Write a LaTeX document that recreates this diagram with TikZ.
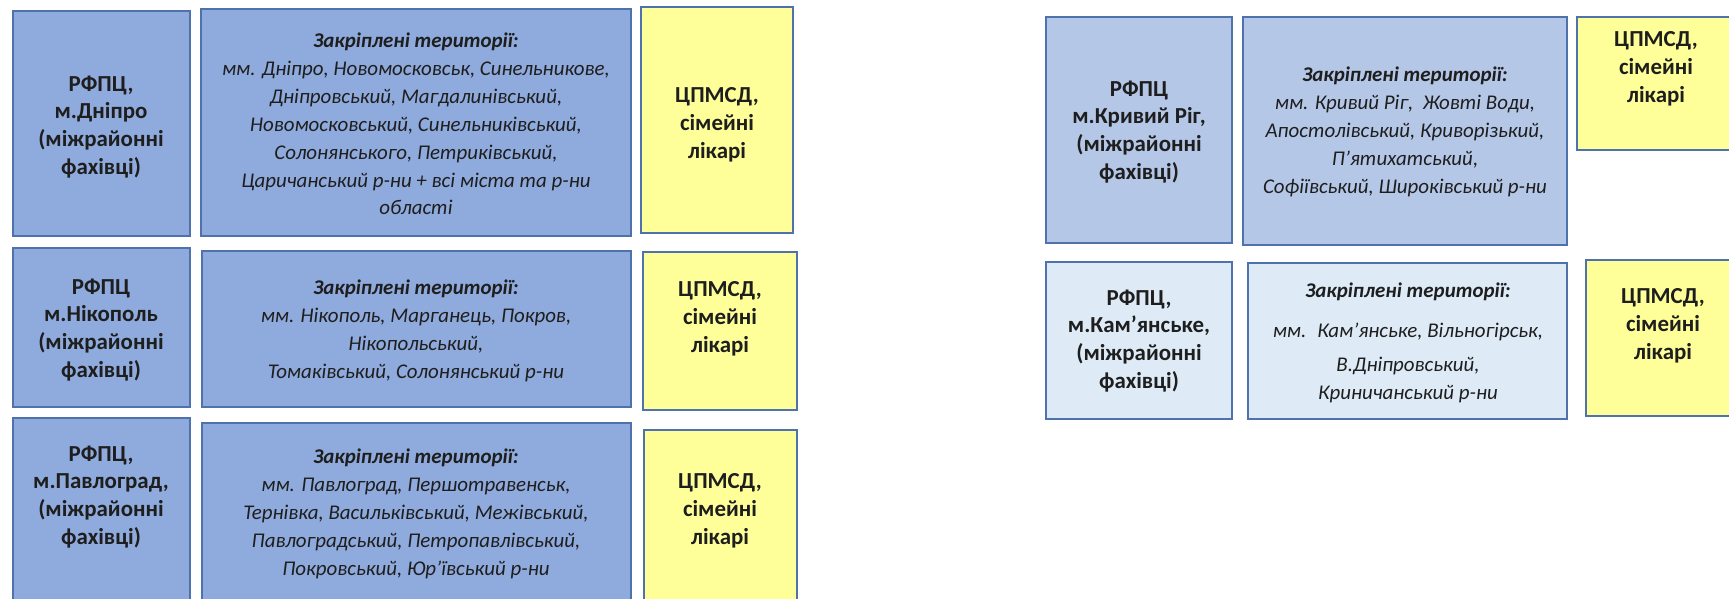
\documentclass[tikz,border=0pt]{standalone}
\usepackage{fontspec}
\setmainfont{Carlito}
\usetikzlibrary{fit}
\definecolor{bordc}{HTML}{4F72AC}
\definecolor{bluedk}{HTML}{8FAADC}
\definecolor{bluemd}{HTML}{B4C7E7}
\definecolor{bluelt}{HTML}{DEEBF7}
\definecolor{yel}{HTML}{FFFF99}
\definecolor{txt}{HTML}{1E1E1E}
\tikzset{
  cell/.style={draw=bordc, line width=2bp, inner sep=0pt, outer sep=0pt},
  dk/.style={cell, fill=bluedk},
  md/.style={cell, fill=bluemd},
  lt/.style={cell, fill=bluelt},
  yw/.style={cell, fill=yel},
  lbl/.style={align=center, inner sep=0pt, text=txt,
    font=\bfseries\fontsize{23}{28}\selectfont},
  lst/.style={align=center, inner sep=0pt, text=txt,
    font=\itshape\fontsize{21}{28}\selectfont},
}
\newcommand{\hd}{\textbf{Закріплені території:}}
\begin{document}
\begin{tikzpicture}[x=1bp,y=-1bp]
\useasboundingbox[fill=white] (0,0) rectangle (1729,599);
% left column
\node[dk, fit={(13,11)(190,236)}] (a1) {};
\node[dk, fit={(201,9)(631,236)}] (b1) {};
\node[yw, fit={(641,7)(793,233)}] (c1) {};
\node[dk, fit={(13,248)(190,407)}] (a2) {};
\node[dk, fit={(202,251)(631,407)}] (b2) {};
\node[yw, fit={(643,252)(797,410)}] (c2) {};
\node[dk, fit={(13,418)(190,660)}] (a3) {};
\node[dk, fit={(202,423)(631,660)}] (b3) {};
\node[yw, fit={(644,430)(797,660)}] (c3) {};
% right column
\node[md, fit={(1046,17)(1232,243)}] (d1) {};
\node[md, fit={(1243,17)(1567,245)}] (e1) {};
\node[yw, fit={(1577,17)(1760,150)}] (f1) {};
\node[lt, fit={(1046,262)(1232,419)}] (d2) {};
\node[lt, fit={(1248,263)(1567,419)}] (e2) {};
\node[yw, fit={(1586,260)(1760,416)}] (f2) {};
% texts
\node[lbl] (ta1) at (101,127) {РФПЦ,\\м.Дніпро\\(міжрайонні\\фахівці)};
\node[lst] (tb1) at (416,124) {\hd\\мм. Дніпро, Новомосковськ, Синельникове,\\Дніпровський, Магдалинівський,\\Новомосковський, Синельниківський,\\Солонянського, Петриківський,\\Царичанський р-ни + всі міста та р-ни\\області};
\node[lbl] (tc1) at (717,125) {ЦПМСД,\\сімейні\\лікарі};
\node[lbl] (ta2) at (101,330) {РФПЦ\\м.Нікополь\\(міжрайонні\\фахівці)};
\node[lst] (tb2) at (416,331) {\hd\\мм. Нікополь, Марганець, Покров,\\Нікопольський,\\Томаківський, Солонянський р-ни};
\node[lbl] (tc2) at (720,319) {ЦПМСД,\\сімейні\\лікарі};
\node[lbl] (ta3) at (101,497) {РФПЦ,\\м.Павлоград,\\(міжрайонні\\фахівці)};
\node[lst] (tb3) at (416,514) {\hd\\мм. Павлоград, Першотравенськ,\\Тернівка, Васильківський, Межівський,\\Павлоградський, Петропавлівський,\\Покровський, Юр’ївський р-ни};
\node[lbl] (tc3) at (720,511) {ЦПМСД,\\сімейні\\лікарі};
\node[lbl] (td1) at (1139,132) {РФПЦ\\м.Кривий Ріг,\\(міжрайонні\\фахівці)};
\node[lst] (te1) at (1405,132) {\hd\\мм. Кривий Ріг,~ Жовті Води,\\Апостолівський, Криворізький,\\П’ятихатський,\\Софіївський, Широківський р-ни};
\node[lbl] (tf1) at (1656,69) {ЦПМСД,\\сімейні\\лікарі};
\node[lbl] (td2) at (1139,341) {РФПЦ,\\м.Кам’янське,\\(міжрайонні\\фахівці)};
\node[lst] (te2) at (1408,343) {\hd\\[12bp]мм.~ Кам’янське, Вільногірськ,\\[6bp]В.Дніпровський,\\Криничанський р-ни};
\node[lbl] (tf2) at (1663,326) {ЦПМСД,\\сімейні\\лікарі};
\end{tikzpicture}
\end{document}
